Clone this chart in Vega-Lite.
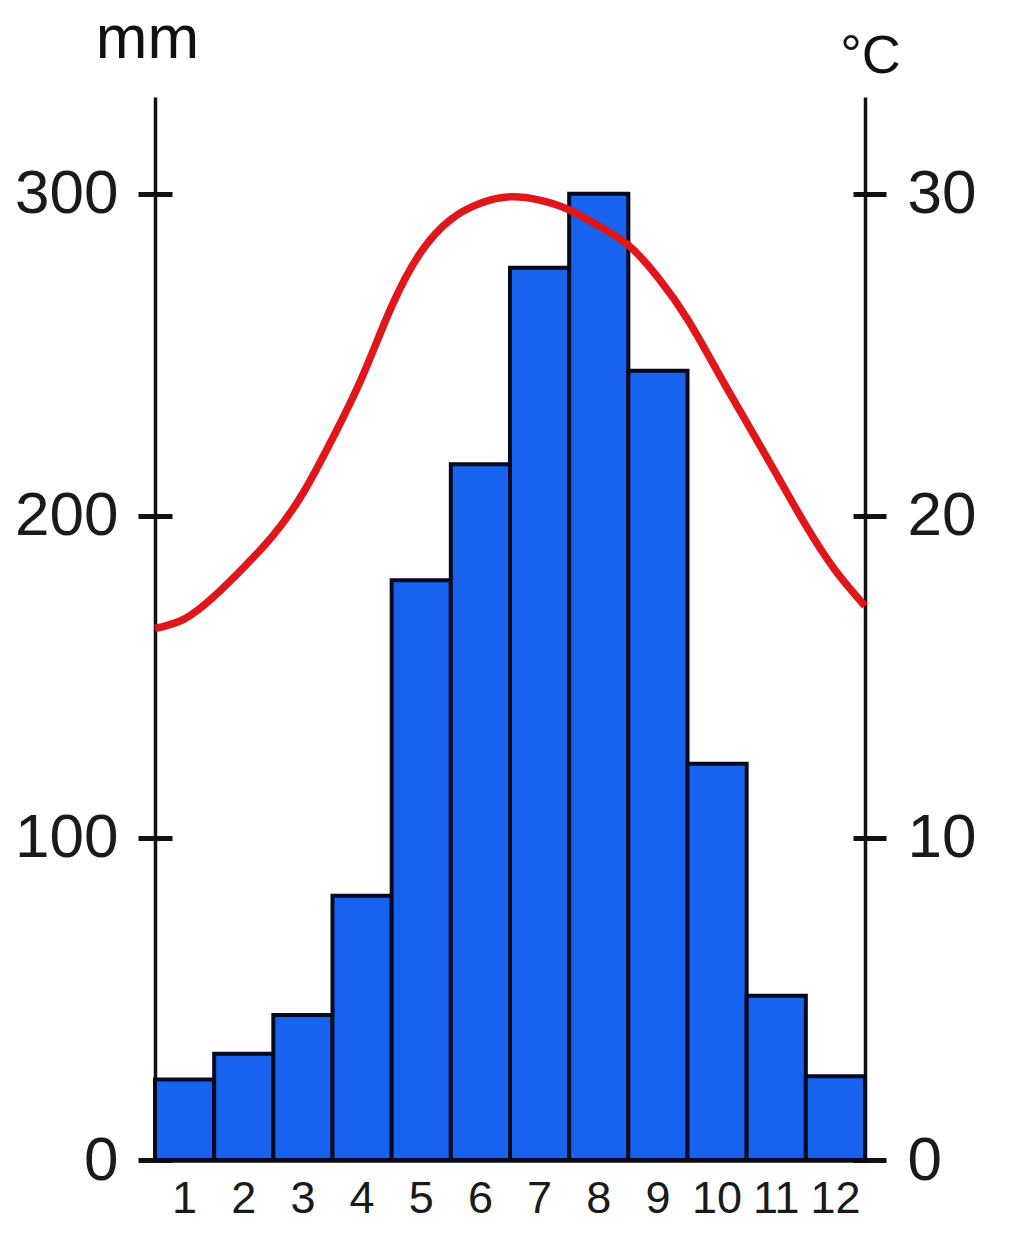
{
  "$schema": "https://vega.github.io/schema/vega-lite/v6.json",
  "width": 710,
  "height": 1063,
  "autosize": {"type": "none"},
  "padding": {"left": 155, "top": 97, "right": 159, "bottom": 93},
  "background": "white",
  "config": {
    "view": {"stroke": null},
    "font": "Liberation Sans",
    "axis": {"grid": false, "labelFont": "Liberation Sans", "titleFont": "Liberation Sans"}
  },
  "datasets": {
    "precip": [
      {"month": 1, "precipitation": 25},
      {"month": 2, "precipitation": 33},
      {"month": 3, "precipitation": 45},
      {"month": 4, "precipitation": 82},
      {"month": 5, "precipitation": 180},
      {"month": 6, "precipitation": 216},
      {"month": 7, "precipitation": 277},
      {"month": 8, "precipitation": 300},
      {"month": 9, "precipitation": 245},
      {"month": 10, "precipitation": 123},
      {"month": 11, "precipitation": 51},
      {"month": 12, "precipitation": 26}
    ],
    "temp": [
      {"month": 0.5, "temperature": 16.5},
      {"month": 1, "temperature": 16.8},
      {"month": 1.5, "temperature": 17.5},
      {"month": 2, "temperature": 18.4},
      {"month": 2.5, "temperature": 19.4},
      {"month": 3, "temperature": 20.7},
      {"month": 3.5, "temperature": 22.4},
      {"month": 4, "temperature": 24.3},
      {"month": 4.5, "temperature": 26.5},
      {"month": 5, "temperature": 28.2},
      {"month": 5.5, "temperature": 29.2},
      {"month": 6, "temperature": 29.7},
      {"month": 6.5, "temperature": 29.9},
      {"month": 7, "temperature": 29.8},
      {"month": 7.5, "temperature": 29.5},
      {"month": 8, "temperature": 29.0},
      {"month": 8.5, "temperature": 28.4},
      {"month": 9, "temperature": 27.4},
      {"month": 9.5, "temperature": 26.1},
      {"month": 10, "temperature": 24.5},
      {"month": 10.5, "temperature": 22.9},
      {"month": 11, "temperature": 21.3},
      {"month": 11.5, "temperature": 19.7},
      {"month": 12, "temperature": 18.3},
      {"month": 12.5, "temperature": 17.2}
    ]
  },
  "layer": [
    {
      "layer": [
        {
          "data": {"name": "precip"},
          "mark": {"type": "bar", "fill": "#1763ef", "stroke": "#050a1e", "strokeWidth": 4},
          "encoding": {
            "x": {
              "field": "month",
              "type": "ordinal",
              "scale": {"type": "band", "paddingInner": 0, "paddingOuter": 0},
              "axis": {
                "orient": "bottom",
                "title": null,
                "labelAngle": 0,
                "labelFontSize": 45,
                "labelColor": "#1a1a1a",
                "labelPadding": 16,
                "ticks": false,
                "domainColor": "#111",
                "domainWidth": 4.5
              }
            },
            "y": {
              "field": "precipitation",
              "type": "quantitative",
              "scale": {"domain": [0, 330], "nice": false},
              "axis": {
                "orient": "left",
                "values": [0, 100, 200, 300],
                "title": "mm",
                "titleAngle": 0,
                "titleX": -8,
                "titleY": -40,
                "titleAlign": "center",
                "titleBaseline": "alphabetic",
                "titleFontSize": 62,
                "titleFontWeight": "normal",
                "titleColor": "#111",
                "labelFontSize": 62,
                "labelColor": "#1a1a1a",
                "labelPadding": 37,
                "labelOverlap": false,
                "labelFlush": false,
                "ticks": false,
                "domainColor": "#111",
                "domainWidth": 3.5
              }
            }
          }
        },
        {
          "data": {"name": "precip"},
          "mark": {"type": "point", "opacity": 0},
          "encoding": {
            "x": {"field": "month", "type": "ordinal"},
            "y": {
              "field": "precipitation",
              "type": "quantitative",
              "axis": {
                "orient": "left",
                "values": [0, 100, 200, 300],
                "offset": -17,
                "title": null,
                "labels": false,
                "domain": false,
                "tickSize": 34,
                "tickWidth": 5,
                "tickColor": "#111"
              }
            }
          }
        }
      ],
      "resolve": {"axis": {"y": "independent"}}
    },
    {
      "layer": [
        {
          "data": {"name": "temp"},
          "mark": {"type": "line", "color": "#e0161b", "strokeWidth": 7.5, "interpolate": "natural"},
          "encoding": {
            "x": {
              "field": "month",
              "type": "quantitative",
              "scale": {"domain": [0.5, 12.5], "nice": false, "zero": false},
              "axis": null
            },
            "y": {
              "field": "temperature",
              "type": "quantitative",
              "scale": {"domain": [0, 33], "nice": false},
              "axis": {
                "orient": "right",
                "values": [0, 10, 20, 30],
                "title": "°C",
                "titleAngle": 0,
                "titleX": 5,
                "titleY": -25,
                "titleAlign": "center",
                "titleBaseline": "alphabetic",
                "titleFontSize": 54,
                "titleFontWeight": "normal",
                "titleColor": "#111",
                "labelFontSize": 62,
                "labelColor": "#1a1a1a",
                "labelPadding": 42,
                "labelOverlap": false,
                "labelFlush": false,
                "ticks": false,
                "domainColor": "#111",
                "domainWidth": 3.5
              }
            }
          }
        },
        {
          "data": {"name": "temp"},
          "mark": {"type": "point", "opacity": 0},
          "encoding": {
            "x": {"field": "month", "type": "quantitative", "axis": null},
            "y": {
              "field": "temperature",
              "type": "quantitative",
              "axis": {
                "orient": "right",
                "values": [0, 10, 20, 30],
                "offset": -12,
                "title": null,
                "labels": false,
                "domain": false,
                "tickSize": 33,
                "tickWidth": 5,
                "tickColor": "#111"
              }
            }
          }
        }
      ],
      "resolve": {"axis": {"y": "independent"}}
    }
  ],
  "resolve": {"scale": {"x": "independent", "y": "independent"}, "axis": {"x": "independent", "y": "independent"}}
}
